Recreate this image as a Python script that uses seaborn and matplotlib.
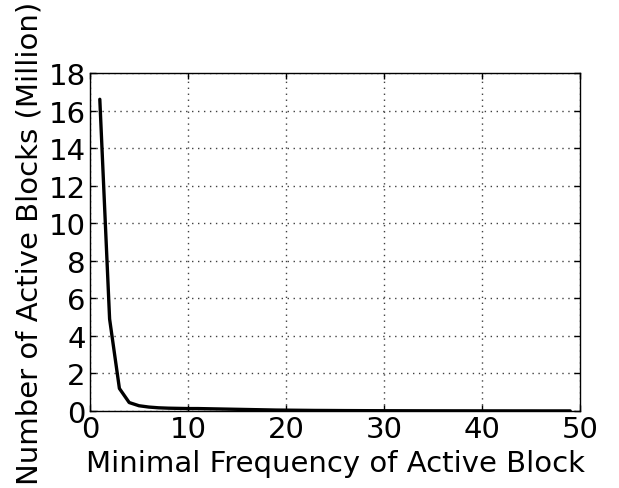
import matplotlib
matplotlib.use("Agg")
import matplotlib.pyplot as plt
import seaborn as sns
import pandas as pd

freq = list(range(1, 50))
blocks = [16.6, 4.9, 1.2, 0.45, 0.28, 0.21, 0.17, 0.15, 0.14, 0.13,
          0.13, 0.12, 0.11, 0.10, 0.09, 0.08, 0.07, 0.06, 0.05, 0.045,
          0.04, 0.035, 0.03, 0.028, 0.025, 0.022, 0.02, 0.018, 0.016, 0.015,
          0.014, 0.013, 0.012, 0.011, 0.010, 0.010, 0.009, 0.009, 0.008, 0.008,
          0.007, 0.007, 0.006, 0.006, 0.006, 0.005, 0.005, 0.005, 0.005]

df = pd.DataFrame({"freq": freq, "blocks": blocks})

sns.set_theme(style="white", rc={
    "xtick.direction": "in", "ytick.direction": "in",
    "xtick.top": True, "ytick.right": True,
    "xtick.bottom": True, "ytick.left": True,
    "xtick.major.size": 4, "ytick.major.size": 4,
    "axes.edgecolor": "black", "axes.linewidth": 1.0,
})
plt.rcParams['font.family'] = ['DejaVu Sans']

fig = plt.figure(figsize=(6.19, 4.89), dpi=100)
ax = fig.add_axes([90/619, 1-412/489, (580-90)/619, (412-74)/489])
sns.lineplot(data=df, x="freq", y="blocks", color="black", linewidth=2.4, ax=ax)
ax.set_xlim(0, 50)
ax.set_ylim(0, 18)
ax.set_xticks(range(0, 51, 10))
ax.set_yticks(range(0, 19, 2))
ax.grid(True, linestyle=(0, (1, 3.3)), color="0.25", linewidth=1.0)
ax.tick_params(labelsize=21, colors="black", width=1, pad=3)
ax.set_xlabel("Minimal Frequency of Active Block", fontsize=21, color="black", labelpad=4)
ax.set_ylabel("Number of Active Blocks (Million)", fontsize=21, color="black", labelpad=4)
for s in ax.spines.values():
    s.set_visible(True)
    s.set_color("black")
fig.savefig("out.png", dpi=100)
